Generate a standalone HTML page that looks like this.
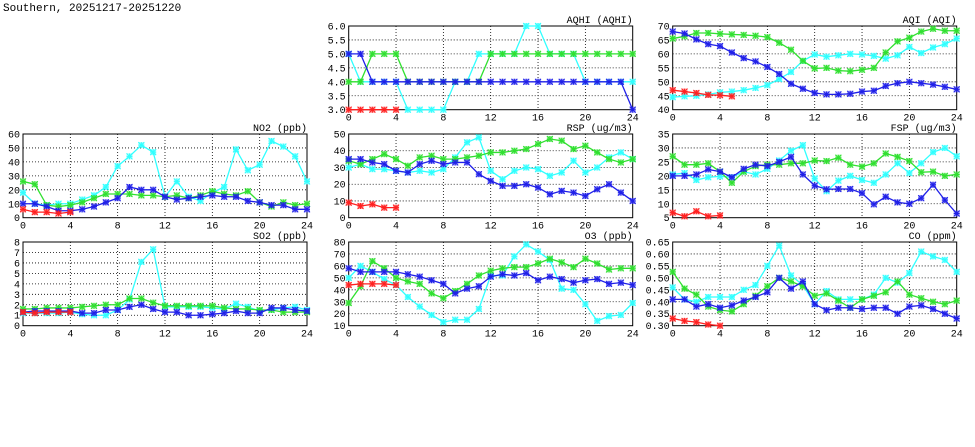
<!DOCTYPE html>
<html><head><meta charset="utf-8"><style>
html,body{margin:0;padding:0;background:#fff;}
svg{display:block;}
text{font-family:"Liberation Mono",monospace;font-size:10px;fill:#000;}
</style></head><body>
<svg id="c" width="975" height="447">
<text x="3" y="11" style="font-size:11px">Southern, 20251217-20251220</text>
</svg>
<script>
const hours=[0,1,2,3,4,5,6,7,8,9,10,11,12,13,14,15,16,17,18,19,20,21,22,23,24];
const xTicks=[0,4,8,12,16,20,24];
const colors={red:"#ff2020",green:"#30e030",cyan:"#30ffff",blue:"#2020e8"};
const no2Cyan=[18,10,9,10,10,13,16,22,37,44,52,47,15,26,15,12,18,22,49,34,38,55,51,44,26];
const no2Green=[26,24,9,8,9,11,14,17,17,17,16,16,15,16,14,16,19,17,16,19,11,8,11,9,10];
const no2Blue=[10,10,8,5,5,6,8,11,14,22,20,20,15,13,14,15,16,15,15,12,11,9,9,6,6];
const no2Red=[6,4,4,3,4];
const so2Cyan=[1.2,1.2,1.2,1.2,1.3,1.1,1.0,1.0,1.5,2.5,6.1,7.3,1.8,1.8,1.8,1.8,1.7,1.6,2.1,1.8,1.4,1.5,1.7,1.8,1.5];
const so2Green=[1.6,1.6,1.7,1.7,1.7,1.8,1.9,2.0,2.0,2.6,2.6,2.2,1.9,1.9,1.9,1.9,1.9,1.7,1.6,1.6,1.5,1.5,1.3,1.3,1.3];
const so2Blue=[1.3,1.4,1.4,1.4,1.4,1.2,1.2,1.5,1.5,1.8,2.0,1.6,1.3,1.3,1.0,1.0,1.1,1.2,1.4,1.2,1.2,1.7,1.7,1.5,1.4];
const so2Red=[1.3,1.2,1.3,1.3,1.3];
const aqhiCyan=[5,4,4,4,4,3,3,3,3,4,4,5,5,5,5,6,6,5,5,5,4,4,4,4,4];
const aqhiGreen=[4,4,5,5,5,4,4,4,4,4,4,4,5,5,5,5,5,5,5,5,5,5,5,5,5];
const aqhiBlue=[5,5,4,4,4,4,4,4,4,4,4,4,4,4,4,4,4,4,4,4,4,4,4,4,3];
const aqhiRed=[3,3,3,3,3];
const rspCyan=[30,32,29,29,28,27,28,27,29,36,45,48,28,23,28,30,29,25,27,34,27,30,36,39,35];
const rspGreen=[34,32,35,38,35,31,36,37,35,35,36,37,39,39,40,41,44,47,46,41,43,39,35,33,35];
const rspBlue=[35,35,33,32,28,27,32,34,32,33,33,26,22,19,19,20,18,14,16,15,13,17,20,15,10];
const rspRed=[9,7,8,6,6];
const o3Cyan=[50,60,55,49,44,34,26,19,13,15,15,24,52,52,68,78,72,65,41,40,28,14,18,19,29];
const o3Green=[29,43,64,58,50,47,45,37,33,39,45,52,56,58,59,59,62,66,63,59,66,62,57,58,58];
const o3Blue=[58,55,55,55,55,53,51,48,45,37,41,43,51,53,52,54,48,51,49,46,48,49,45,46,44];
const o3Red=[44,45,45,45,44];
const aqiCyan=[44.5,44.8,45,45.5,46.2,46.5,47,47.8,48.8,51,53.5,57.5,59.8,59,59.5,60,59.8,59.3,58.3,59.5,62.5,60.3,62.3,63.5,65.5];
const aqiGreen=[65.5,66.3,67.5,67.5,67.2,67,66.8,66.5,66,64,61.5,57.5,54.8,55,54,53.8,54.3,55,60.5,64.5,65.8,68,69,68.3,68.3];
const aqiBlue=[68,67.3,65.2,63.5,62.8,60.5,58.5,57.3,55.3,52.8,49.3,47.5,46,45.5,45.5,45.7,46.5,46.8,48.5,49.5,50,49.5,49,48.2,47.3];
const aqiRed=[47,46.5,46,45.3,45.2,44.8];
const fspCyan=[20.5,21,18.5,19.5,19.8,19.5,21.5,20.5,22.5,25.5,29,31,19,14.5,18.3,20,18.5,17.5,20.5,24.5,21,24.5,28.5,30,27];
const fspGreen=[27,24,24,24.5,21.5,17.5,21.5,23.5,24,24,24.5,24.5,25.5,25.3,26.5,24,23.3,24.5,28,26.8,25.3,21.3,21.5,20,20.5];
const fspBlue=[20,20,20.5,22.3,21.5,19.5,22.5,24,23.5,25,26.8,20.5,16.5,15.2,15.3,15.3,13.8,9.8,12.5,10.5,10,12,16.8,11.3,6.5];
const fspRed=[6.8,5.5,7.3,5.5,5.8];
const coCyan=[.46,.41,.40,.42,.42,.42,.45,.47,.55,.635,.51,.47,.39,.445,.41,.41,.41,.43,.50,.48,.52,.61,.59,.575,.525];
const coGreen=[.525,.455,.43,.38,.365,.36,.39,.425,.465,.50,.485,.465,.425,.435,.405,.375,.41,.425,.44,.485,.43,.415,.40,.39,.405];
const coBlue=[.41,.41,.38,.39,.375,.385,.405,.42,.44,.50,.455,.485,.39,.365,.375,.375,.37,.375,.375,.35,.38,.385,.37,.35,.33];
const coRed=[.33,.32,.315,.305,.30];
const no2Ticks=[0,10,20,30,40,50,60];
const so2Ticks=[0,1,2,3,4,5,6,7,8];
const aqhiTicks=["3.0","3.5","4.0","4.5","5.0","5.5","6.0"];
const rspTicks=[0,10,20,30,40,50];
const o3Ticks=[10,20,30,40,50,60,70,80];
const aqiTicks=[40,45,50,55,60,65,70];
const fspTicks=[5,10,15,20,25,30,35];
const coTicks=["0.30","0.35","0.40","0.45","0.50","0.55","0.60","0.65"];

const NS="http://www.w3.org/2000/svg";
const svg=document.getElementById('c');
function mk(tag,attrs,parent){const e=document.createElementNS(NS,tag);for(const k in attrs)e.setAttribute(k,attrs[k]);(parent||svg).appendChild(e);return e;}
const W=284,H=83.7;
function panel(name,title,left,top,ticks,series){
  const g=mk('g',{});
  
  
  const vals=ticks.map(Number);
  const ymin=vals[0],ymax=vals[vals.length-1];
  const xs=h=>left+h/24*W;
  const ys=v=>top+H-(v-ymin)/(ymax-ymin)*H;
  xTicks.forEach(t=>{
    if(t>0&&t<24){const l=mk('line',{x1:xs(t),x2:xs(t),y1:top,y2:top+H,stroke:'#000','stroke-width':0.8,'stroke-dasharray':'1,2'},g);
      }
    const tx=mk('text',{x:xs(t),y:top+H+11,'text-anchor':'middle'},g);tx.textContent=t;
    
  });
  ticks.forEach(t=>{
    const v=Number(t);
    if(v>ymin&&v<ymax){const l=mk('line',{x1:left,x2:left+W,y1:ys(v),y2:ys(v),stroke:'#000','stroke-width':0.8,'stroke-dasharray':'1,2'},g);
      }
    const tx=mk('text',{x:left-3,y:ys(v)+3.5,'text-anchor':'end'},g);tx.textContent=t;
    
  });
  const fr=mk('rect',{x:left,y:top,width:W,height:H,fill:'none',stroke:'#000','stroke-width':1},g);
  
  const tt=mk('text',{x:left+W,y:top-3,'text-anchor':'end'},g);tt.textContent=title;
  
  series.forEach(([col,data])=>{
    const c=colors[col];
    const pts=data.map((v,i)=>[xs(hours[i]),Math.max(top,Math.min(top+H,ys(v)))]);
    const pl=mk('polyline',{points:pts.map(p=>p.join(',')).join(' '),fill:'none',stroke:c,'stroke-width':1.3},g);
    
    pts.forEach(([x,y])=>{
      const m=mk('g',{},g);
      
      mk('rect',{x:x-3,y:y-3,width:6,height:6,fill:c,'fill-opacity':0.45},m);
      mk('path',{d:`M${x-3},${y-3}L${x+3},${y+3}M${x-3},${y+3}L${x+3},${y-3}M${x},${y-3}V${y+3}M${x-3},${y}H${x+3}`,stroke:c,'stroke-width':1},m);
    });
  });
}
const T1=26,T2=134,T3=242;
panel('no2','NO2 (ppb)',23,T2,no2Ticks,[['cyan',no2Cyan],['green',no2Green],['blue',no2Blue],['red',no2Red]]);
panel('so2','SO2 (ppb)',23,T3,so2Ticks,[['cyan',so2Cyan],['green',so2Green],['blue',so2Blue],['red',so2Red]]);
panel('aqhi','AQHI (AQHI)',348.7,T1,aqhiTicks,[['cyan',aqhiCyan],['green',aqhiGreen],['blue',aqhiBlue],['red',aqhiRed]]);
panel('rsp','RSP (ug/m3)',348.7,T2,rspTicks,[['cyan',rspCyan],['green',rspGreen],['blue',rspBlue],['red',rspRed]]);
panel('o3','O3 (ppb)',348.7,T3,o3Ticks,[['cyan',o3Cyan],['green',o3Green],['blue',o3Blue],['red',o3Red]]);
panel('aqi','AQI (AQI)',672.7,T1,aqiTicks,[['cyan',aqiCyan],['green',aqiGreen],['blue',aqiBlue],['red',aqiRed]]);
panel('fsp','FSP (ug/m3)',672.7,T2,fspTicks,[['cyan',fspCyan],['green',fspGreen],['blue',fspBlue],['red',fspRed]]);
panel('co','CO (ppm)',672.7,T3,coTicks,[['cyan',coCyan],['green',coGreen],['blue',coBlue],['red',coRed]]);
</script>
</body></html>
